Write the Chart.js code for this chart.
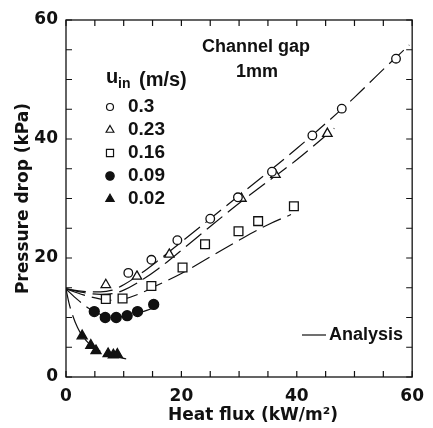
<!DOCTYPE html>
<html>
<head>
<meta charset="utf-8">
<script src="https://cdn.jsdelivr.net/npm/chart.js@4/dist/chart.umd.min.js"></script>
<style>
html,body{margin:0;padding:0;background:#fff;}
#wrap{width:433px;height:428px;position:relative;}
</style>
</head>
<body>
<div id="wrap"><canvas id="c" width="433" height="428"></canvas></div>
<script>
// ---- Data ----
const seriesLabels = ['0.3', '0.23', '0.16', '0.09', '0.02'];

const x030 = [10.8, 14.8, 19.3, 25.0, 29.8, 35.7, 42.7, 47.8, 57.2];
const y030 = [17.5, 19.7, 23.0, 26.6, 30.2, 34.5, 40.6, 45.1, 53.5];

const x023 = [6.9, 12.3, 17.9, 30.4, 36.3, 45.3];
const y023 = [15.5, 16.9, 20.6, 30.0, 34.0, 40.9];

const x016 = [6.9, 9.8, 14.8, 20.2, 24.1, 29.9, 33.3, 39.5];
const y016 = [13.1, 13.2, 15.3, 18.4, 22.3, 24.5, 26.2, 28.7];

const x009 = [4.9, 6.8, 8.7, 10.6, 12.4, 15.2];
const y009 = [11.0, 10.0, 10.0, 10.3, 11.0, 12.2];

const x002 = [2.8, 4.3, 5.2, 7.3, 8.2, 8.9];
const y002 = [6.9, 5.3, 4.4, 3.9, 3.7, 3.8];

// Analysis curves
const ax030 = [0, 3, 6, 8, 10, 13, 16, 20, 25, 30, 35, 40, 45, 50, 55, 59.5];
const ay030 = [14.8, 14.4, 14.3, 14.6, 15.5, 17.4, 19.6, 22.7, 26.6, 30.5, 34.4, 38.4, 42.6, 47.0, 51.7, 55.8];

const ax023 = [0, 3, 6, 8, 10, 13, 16, 20, 25, 30, 36, 40, 46.5];
const ay023 = [14.8, 14.2, 13.9, 14.0, 14.6, 16.2, 18.2, 21.3, 25.3, 29.2, 33.6, 36.5, 41.8];

const ax016 = [0, 3, 6, 8, 10, 13, 16, 20, 25, 30, 35, 39];
const ay016 = [14.8, 13.8, 13.1, 12.9, 13.1, 14.1, 15.5, 17.4, 20.2, 23.0, 25.6, 27.3];

const ax009 = [0, 2, 4, 6, 8, 10, 12, 14, 16];
const ay009 = [14.8, 13.0, 11.5, 10.5, 10.1, 10.2, 10.6, 11.2, 12.0];

const ax002 = [0, 0.5, 1, 2, 3, 4, 5, 6, 8, 11];
const ay002 = [14.8, 12.5, 10.8, 8.3, 6.7, 5.6, 4.8, 4.3, 3.6, 2.9];

const xTickLabels = [0, 20, 40, 60];
const yTickLabels = [0, 20, 40, 60];

// ---- Build ----
const pts = (xs, ys) => xs.map((x, i) => ({x: x, y: ys[i]}));
const INK = '#111';
const AXFONT = "'DejaVu Sans', sans-serif";
const TXFONT = "'Liberation Sans', Arial, sans-serif";

function lineDs(xs, ys) {
  return {type: 'line', data: pts(xs, ys), borderColor: INK, borderWidth: 1.2,
    borderDash: [20, 7], pointRadius: 0, fill: false, cubicInterpolationMode: 'monotone', order: 2};
}
function markDs(xs, ys, style, r, filled) {
  return {type: 'scatter', data: pts(xs, ys), pointStyle: style, pointRadius: r, pointHoverRadius: r,
    borderColor: INK, backgroundColor: filled ? INK : '#fff', pointBorderWidth: 1.3, borderWidth: 1.3, order: 1};
}

const datasets = [
  lineDs(ax030, ay030), lineDs(ax023, ay023), lineDs(ax016, ay016), lineDs(ax009, ay009), lineDs(ax002, ay002),
  markDs(x030, y030, 'circle', 4.3, false),
  markDs(x023, y023, 'triangle', 5.5, false),
  markDs(x016, y016, 'rect', 6.2, false),
  markDs(x009, y009, 'circle', 5, true),
  markDs(x002, y002, 'triangle', 5.8, true),
];

const frame = {
  id: 'frame',
  afterDraw(chart) {
    const ctx = chart.ctx, a = chart.chartArea;
    const xs = chart.scales.x, ys = chart.scales.y;
    ctx.save();
    ctx.strokeStyle = INK; ctx.lineWidth = 1.3;
    ctx.strokeRect(a.left, a.top, a.right - a.left, a.bottom - a.top);
    ctx.lineWidth = 1.2;
    const L = 6;
    xs.ticks.forEach(t => {
      const p = xs.getPixelForValue(t.value);
      ctx.beginPath();
      ctx.moveTo(p, a.bottom); ctx.lineTo(p, a.bottom - L);
      ctx.moveTo(p, a.top); ctx.lineTo(p, a.top + L);
      ctx.stroke();
    });
    ys.ticks.forEach(t => {
      const p = ys.getPixelForValue(t.value);
      ctx.beginPath();
      ctx.moveTo(a.left, p); ctx.lineTo(a.left + L, p);
      ctx.moveTo(a.right, p); ctx.lineTo(a.right - L, p);
      ctx.stroke();
    });

    ctx.fillStyle = INK;
    ctx.textBaseline = 'middle';
    ctx.textAlign = 'center';

    // X axis title
    ctx.font = "bold 17px " + AXFONT;
    ctx.fillText('Heat flux (kW/m²)', 253, 416);

    // Annotations
    ctx.font = "bold 18px " + TXFONT;
    ctx.fillText('Channel gap', 256, 47);
    ctx.fillText('1mm', 257, 72);

    // Legend header u_in (m/s)
    ctx.textAlign = 'left';
    ctx.font = "bold 20px " + TXFONT;
    ctx.fillText('u', 106, 77);
    ctx.font = "bold 14px " + TXFONT;
    ctx.fillText('in', 118, 84);
    ctx.font = "bold 20px " + TXFONT;
    ctx.fillText('(m/s)', 139, 80);

    // Legend rows
    const rowsY = [107, 130, 153, 176, 199];
    const styles = [['circle', false, 3.5], ['triangle', false, 4.5], ['rect', false, 5], ['circle', true, 4.2], ['triangle', true, 4.8]];
    rowsY.forEach((yy, i) => {
      const [st, filled, r] = styles[i];
      ctx.lineWidth = 1.2;
      ctx.strokeStyle = INK;
      ctx.fillStyle = filled ? INK : '#fff';
      ctx.beginPath();
      if (st === 'circle') {
        ctx.arc(110, yy, r, 0, Math.PI * 2);
      } else if (st === 'triangle') {
        ctx.moveTo(110, yy - r);
        ctx.lineTo(110 + r * 0.866, yy + r * 0.5);
        ctx.lineTo(110 - r * 0.866, yy + r * 0.5);
        ctx.closePath();
      } else {
        const s = r * 0.707;
        ctx.rect(110 - s, yy - s, 2 * s, 2 * s);
      }
      ctx.fill(); ctx.stroke();
      ctx.fillStyle = INK;
      ctx.font = "bold 19px " + TXFONT;
      ctx.fillText(seriesLabels[i], 128, yy);
    });

    // Analysis key
    ctx.beginPath();
    ctx.lineWidth = 1.2;
    ctx.moveTo(302, 335); ctx.lineTo(326, 335);
    ctx.stroke();
    ctx.font = "bold 18px " + TXFONT;
    ctx.fillText('Analysis', 329, 335);
    ctx.restore();
  }
};

new Chart(document.getElementById('c'), {
  data: {datasets: datasets},
  options: {
    responsive: false,
    animation: false,
    events: [],
    layout: {padding: {top: 20, right: 14, left: 0, bottom: 0}},
    plugins: {legend: {display: false}, tooltip: {enabled: false}},
    scales: {
      x: {
        type: 'linear', min: 0, max: 60,
        grid: {display: false, drawTicks: false},
        border: {display: false},
        ticks: {stepSize: 5, autoSkip: false, maxRotation: 0, padding: 9, color: INK,
          font: {family: AXFONT, size: 17, weight: 'bold'},
          callback: v => xTickLabels.includes(v) ? String(v) : ''},
        title: {display: false},
        afterFit: s => { s.height = 51; }
      },
      y: {
        type: 'linear', min: 0, max: 60,
        grid: {display: false, drawTicks: false},
        border: {display: false},
        ticks: {stepSize: 5, autoSkip: false, padding: 8, color: INK,
          font: {family: AXFONT, size: 17, weight: 'bold'},
          callback: v => yTickLabels.includes(v) ? String(v) : ''},
        title: {display: true, text: 'Pressure drop (kPa)', color: INK, padding: {top: 13, bottom: 0},
          font: {family: AXFONT, size: 17, weight: 'bold'}},
        afterFit: s => { s.width = 66; }
      }
    }
  },
  plugins: [frame]
});
</script>
</body>
</html>
